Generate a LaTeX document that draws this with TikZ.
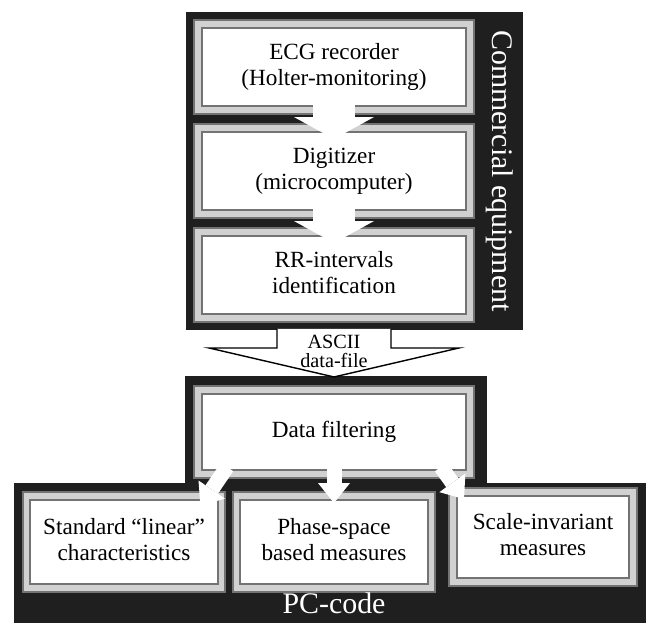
\documentclass[tikz,border=0pt]{standalone}
\usepackage{fontspec}
\setmainfont{Liberation Serif}
\usetikzlibrary{arrows.meta,positioning,calc,backgrounds}
\definecolor{blk}{gray}{0.12}
\newcommand{\bxfont}{\fontsize{13.2}{14.7}\selectfont}

\begin{document}
\begin{tikzpicture}

\tikzset{
	box/.style={
		rectangle,
		draw=black!55,
		line width=1.1pt,
		double=black!18,
		double distance=3.2pt,
		fill=white,
		text centered,
		inner sep=0pt,
		minimum width=5.44cm,
		minimum height=1.72cm,
		font=\bxfont},
	flow/.style={
		white,
		line width=0.84cm,
		-{Triangle[width=1.6cm,length=0.44cm,line width=0pt]}},
	flowsm/.style={
		white,
		line width=0.3cm,
		-{Triangle[width=0.64cm,length=0.4cm,line width=0pt]}},
	hollow/.style={
		draw=black,
		fill=white,
		line width=0.8pt,
		line join=miter},
	lbl/.style={
		text=white,
		inner sep=1pt,
		font=\fontsize{17}{20}\selectfont}
}

\useasboundingbox (0,0) rectangle (12.94,-12.56);

\node[box] (ecg) at (6.68,-1.34) {\begin{tabular}{@{}c@{}}ECG recorder\\(Holter-monitoring)\end{tabular}};

\node[box,below=2.08cm of ecg.center,anchor=center] (dig) {\begin{tabular}{@{}c@{}}Digitizer\\(microcomputer)\end{tabular}};

\node[box,below=2.08cm of dig.center,anchor=center] (rr) {\begin{tabular}{@{}c@{}}RR-intervals\\identification\end{tabular}};

\node[lbl,rotate=-90,right=3.32cm of dig.center,anchor=center] (comm) {Commercial equipment};

\node[box,below=3.14cm of rr.center,anchor=center,minimum height=1.68cm] (filt) {Data filtering};

\node[box,below=2.2cm of filt.center,anchor=center,minimum width=3.9cm,minimum height=1.84cm] (phase) {\begin{tabular}{@{}c@{}}Phase-space\\based measures\end{tabular}};

\node[box,left=4.2cm of phase.center,anchor=center,minimum width=3.9cm,minimum height=1.84cm] (std) {\begin{tabular}{@{}c@{}}Standard ``linear''\\characteristics\end{tabular}};

\node[box,right=4.18cm of phase.center,anchor=center,yshift=0.1cm,minimum width=3.6cm,minimum height=1.8cm] (scale) {\begin{tabular}{@{}c@{}}Scale-invariant\\measures\end{tabular}};

\node[lbl,below=1.22cm of phase.center,anchor=center] (pc) {PC-code};

\begin{scope}[on background layer]
\fill[blk] ([shift={(-0.22,0.22)}]ecg.north west) rectangle ([shift={(1.04,-0.22)}]rr.south east);
\fill[blk] ([shift={(-0.24,0.26)}]filt.north west) rectangle ([shift={(0.32,-0.3)}]filt.south east);
\fill[blk] ([shift={(-0.24,0.24)}]std.north west) rectangle ($(scale.east |- pc.south)+(0.24,-0.14)$);
\end{scope}

\draw[flow] ([yshift=0.2cm]ecg.south) -- ([yshift=-0.24cm]dig.north);
\draw[flow] ([yshift=0.2cm]dig.south) -- ([yshift=-0.24cm]rr.north);

\coordinate (cebot) at ([yshift=-0.2cm]rr.south);
\draw[hollow] (cebot) ++(-1.14,0) -- ++(0,-0.38) -- ++(-1.36,0) -- ++(2.5,-0.58) -- ++(2.5,0.58) -- ++(-1.36,0) -- ++(0,0.38);
\node[below=1.52cm of rr.center,anchor=center,inner sep=0pt,align=center,font=\fontsize{11.5}{10.8}\selectfont] (asc) {ASCII\\data-file};

\draw[flowsm] ([shift={(0.6,0.16)}]filt.south west) -- ([shift={(-0.44,-0.22)}]std.north east);
\draw[flowsm] ([yshift=0.16cm]filt.south) -- ([yshift=-0.16cm]phase.north);
\draw[flowsm] ([shift={(-0.6,0.16)}]filt.south east) -- ([shift={(0.24,-0.16)}]scale.north west);

\end{tikzpicture}
\end{document}
